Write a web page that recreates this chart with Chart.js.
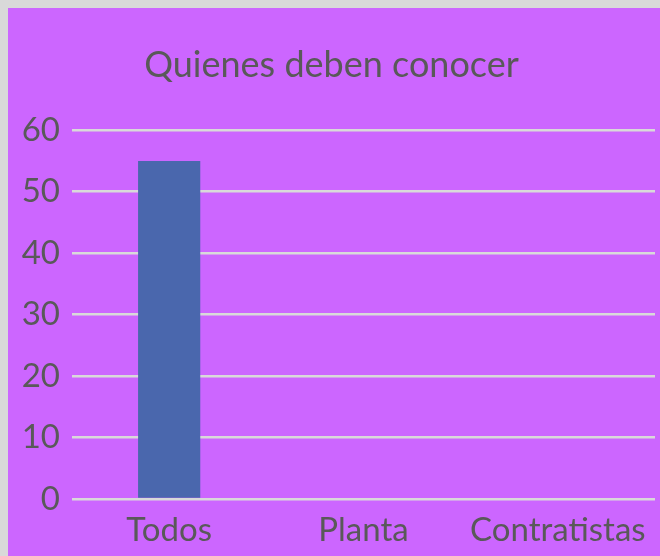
<!DOCTYPE html>
<html>
<head>
<meta charset="utf-8">
<script src="https://cdn.jsdelivr.net/npm/chart.js@4/dist/chart.umd.min.js"></script>
<style>
  html, body { margin: 0; padding: 0; background: #d9d9d9; }
  #wrap { position: absolute; left: 8px; top: 8px; width: 652px; height: 548px; background: #cc66ff; }
</style>
</head>
<body>
<div id="wrap"><canvas id="chart" width="652" height="548"></canvas></div>
<script>
// Quienes deben conocer - column chart

const categories = ['Todos', 'Planta', 'Contratistas'];
const values = [55, 0, 0];
const yTicks = [0, 10, 20, 30, 40, 50, 60];

const textColor = '#595959';
const fontFamily = '"Liberation Sans Narrow", Lato, "Open Sans", sans-serif';

const ctx = document.getElementById('chart').getContext('2d');
new Chart(ctx, {
    type: 'bar',
    data: {
        labels: categories,
        datasets: [{
            label: 'Quienes deben conocer',
            data: values,
            backgroundColor: '#4a67ad',
            categoryPercentage: 1,
            barPercentage: 0.32
        }]
    },
    options: {
        responsive: false,
        animation: false,
        layout: {
            padding: { left: 0, right: 5, top: 0, bottom: 0 }
        },
        scales: {
            x: {
                grid: { display: false },
                border: { display: false },
                ticks: {
                    color: textColor,
                    font: { family: fontFamily, size: 33 },
                    padding: 4
                },
                afterFit: scale => { scale.height = 57; }
            },
            y: {
                min: 0,
                max: 60,
                afterBuildTicks: scale => {
                    scale.ticks = yTicks.map(v => ({ value: v }));
                },
                grid: { color: '#d9d9d9', lineWidth: 2.5, drawTicks: false },
                border: { display: false },
                ticks: {
                    color: textColor,
                    font: { family: fontFamily, size: 33 },
                    padding: 12
                },
                afterFit: scale => { scale.width = 64; }
            }
        },
        plugins: {
            legend: { display: false },
            tooltip: { enabled: false },
            title: {
                display: true,
                text: 'Quienes deben conocer',
                color: textColor,
                font: { family: fontFamily, size: 36, weight: 'normal' },
                padding: { top: 36, bottom: 43 }
            }
        }
    }
});
</script>
</body>
</html>
